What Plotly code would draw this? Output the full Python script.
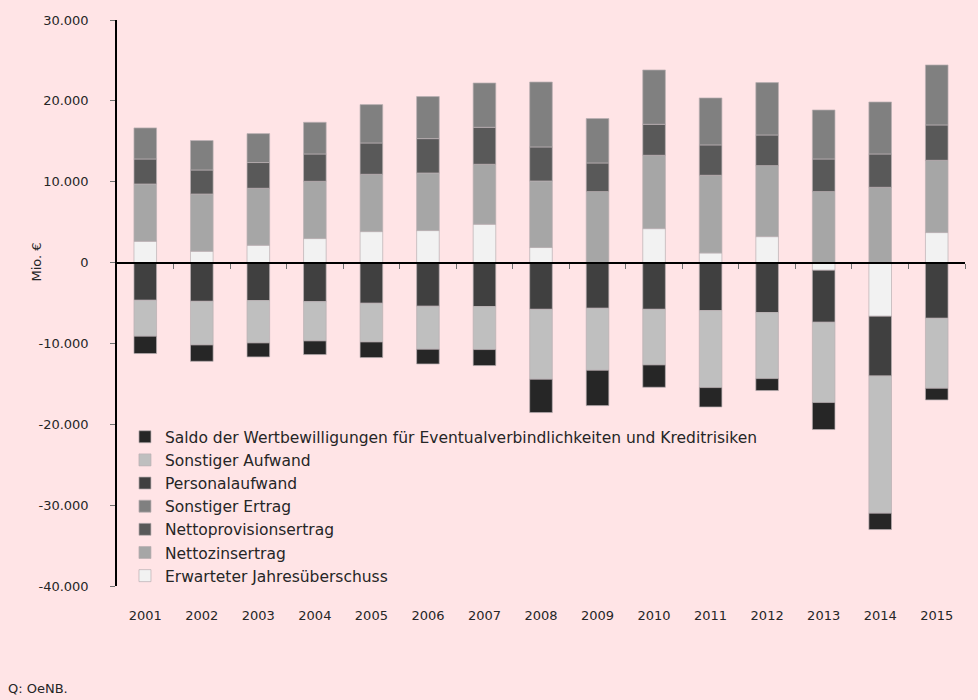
import plotly.graph_objects as go

years = [str(y) for y in range(2001, 2016)]

erwarteter = [2.63, 1.40, 2.14, 2.97, 3.83, 3.96, 4.74, 1.86, 0.0, 4.20, 1.19, 3.21, -0.95, -6.64, 3.71]
nettozins = [7.09, 7.08, 7.05, 7.08, 7.09, 7.12, 7.42, 8.23, 8.78, 9.07, 9.61, 8.78, 8.78, 9.31, 8.94]
nettoprov = [3.09, 2.97, 3.18, 3.38, 3.87, 4.25, 4.57, 4.21, 3.54, 3.83, 3.75, 3.79, 4.03, 4.12, 4.37]
sonst_ertrag = [3.84, 3.64, 3.58, 3.92, 4.75, 5.20, 5.48, 8.03, 5.49, 6.72, 5.81, 6.48, 6.06, 6.43, 7.42]
personal = [-4.66, -4.79, -4.70, -4.83, -5.03, -5.40, -5.44, -5.78, -5.65, -5.78, -5.94, -6.18, -6.43, -7.38, -6.89]
sonst_aufwand = [-4.45, -5.40, -5.24, -4.86, -4.79, -5.32, -5.32, -8.65, -7.67, -6.88, -9.52, -8.17, -9.93, -16.98, -8.66]
saldo = [-2.14, -2.02, -1.73, -1.69, -1.93, -1.82, -1.98, -4.12, -4.37, -2.76, -2.40, -1.48, -3.34, -2.02, -1.44]

ytick_vals = [30000, 20000, 10000, 0, -10000, -20000, -30000, -40000]
ytick_text = ["30.000", "20.000", "10.000", "0", "-10.000", "-20.000", "-30.000", "-40.000"]

series = [
    ("Erwarteter Jahresüberschuss", erwarteter, "#f2f2f2"),
    ("Nettozinsertrag", nettozins, "#a6a6a6"),
    ("Nettoprovisionsertrag", nettoprov, "#595959"),
    ("Sonstiger Ertrag", sonst_ertrag, "#808080"),
    ("Personalaufwand", personal, "#404040"),
    ("Sonstiger Aufwand", sonst_aufwand, "#bfbfbf"),
    ("Saldo der Wertbewilligungen für Eventualverbindlichkeiten und Kreditrisiken", saldo, "#262626"),
]

BG = "#ffe4e6"

fig = go.Figure()
for name, vals, color in series:
    fig.add_trace(go.Bar(
        x=years, y=[v * 1000 for v in vals], name=name,
        marker=dict(color=color, line=dict(color="rgba(185,175,178,0.7)", width=1)),
        width=0.4,
    ))

# empty helper trace so that the zero-level category axis (x2) is drawn
fig.add_trace(go.Scatter(x=[], y=[], xaxis="x2", showlegend=False, hoverinfo="skip"))

font_family = "DejaVu Sans, Lato, sans-serif"
fig.update_layout(
    barmode="relative",
    width=978, height=700,
    paper_bgcolor=BG,
    plot_bgcolor=BG,
    margin=dict(l=117, r=13, t=20, b=114),
    font=dict(family=font_family, size=13, color="#262626"),
    showlegend=True,
    legend=dict(
        x=0.0094, y=0.293, xanchor="left", yanchor="top",
        traceorder="reversed", bgcolor="rgba(0,0,0,0)",
        font=dict(size=15.5, color="#262626"),
        itemwidth=30, tracegroupgap=0,
    ),
    xaxis=dict(
        type="category", showline=False, ticks="", showgrid=False,
        zeroline=False, tickfont=dict(size=13), ticklabelstandoff=20,
    ),
    xaxis2=dict(
        overlaying="x", anchor="free", position=40 / 70, side="bottom",
        range=[-0.5, 14.5], showline=True, linecolor="black", linewidth=2,
        ticks="outside", ticklen=5, tickcolor="#707070", tickwidth=1,
        tickvals=[i + 0.5 for i in range(15)], showticklabels=False,
        showgrid=False, zeroline=False,
    ),
    yaxis=dict(
        range=[-40000, 30000], tickvals=ytick_vals, ticktext=ytick_text,
        showline=True, linecolor="black", linewidth=1.5,
        ticks="outside", ticklen=5, tickcolor="#707070",
        showgrid=False, zeroline=False, ticklabelstandoff=19,
        tickfont=dict(size=13),
    ),
    annotations=[
        dict(
            text="Mio. €", xref="paper", yref="paper", x=0, y=40 / 70,
            xanchor="center", yanchor="middle", xshift=-80, textangle=-90,
            showarrow=False, font=dict(size=13, color="#262626"),
        ),
        dict(
            text="Q: OeNB.", xref="paper", yref="paper", x=0, y=0,
            xanchor="left", yanchor="bottom", xshift=-111, yshift=-112,
            showarrow=False, font=dict(size=13, color="#262626"),
        ),
    ],
)

fig.write_html(
    "out.html",
    config={"displayModeBar": False},
    post_script="document.body.style.margin='0';document.body.style.background='" + BG + "';",
)
